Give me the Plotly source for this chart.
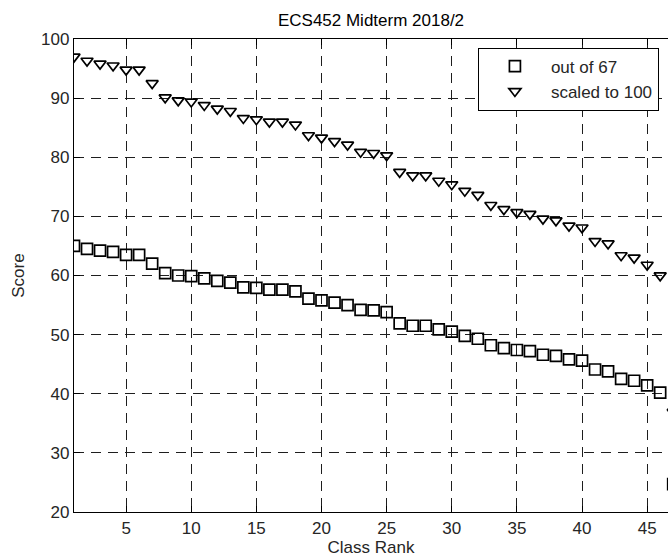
import plotly.graph_objects as go

# ---- data ----
class_rank = list(range(1, 48))
out_of_67 = [65.0, 64.5, 64.2, 64.0, 63.5, 63.5, 62.0, 60.4, 60.0, 59.9,
             59.5, 59.1, 58.8, 58.0, 57.9, 57.6, 57.6, 57.3, 56.1, 55.8,
             55.4, 55.0, 54.2, 54.1, 53.8, 51.9, 51.5, 51.5, 50.9, 50.5,
             49.8, 49.3, 48.2, 47.7, 47.4, 47.2, 46.6, 46.4, 45.8, 45.6,
             44.1, 43.8, 42.5, 42.2, 41.4, 40.2, 24.7]
scaled_to_100 = [97.0, 96.3, 95.8, 95.5, 94.8, 94.8, 92.5, 90.1, 89.6, 89.4,
                 88.8, 88.2, 87.8, 86.6, 86.4, 86.0, 86.0, 85.5, 83.7, 83.3,
                 82.7, 82.1, 80.9, 80.7, 80.3, 77.5, 76.9, 76.9, 76.0, 75.4,
                 74.3, 73.6, 71.9, 71.2, 70.7, 70.4, 69.6, 69.3, 68.4, 68.1,
                 65.8, 65.4, 63.4, 63.0, 61.8, 60.0, 36.9]
series_names = ["out of 67", "scaled to 100"]
x_ticks = [5, 10, 15, 20, 25, 30, 35, 40, 45]
y_ticks = [20, 30, 40, 50, 60, 70, 80, 90, 100]

FONT = "Liberation Sans, Arial, sans-serif"
TXT = "#262626"

fig = go.Figure()
fig.add_trace(go.Scatter(
    x=class_rank, y=out_of_67, mode="markers", name=series_names[0],
    legendgroup="a",
    marker=dict(symbol="square-open", size=11, color="black",
                line=dict(width=1.7, color="black")),
))
fig.add_trace(go.Scatter(
    x=class_rank, y=scaled_to_100, mode="markers", name=series_names[1],
    legendgroup="b",
    marker=dict(symbol="triangle-down-open", size=10.5, color="black",
                line=dict(width=1.7, color="black")),
))

axis_common = dict(
    showgrid=True, gridcolor="#1e1e1e", gridwidth=1.3, griddash="10px,7px",
    showline=True, linecolor="black", linewidth=1.4,
    ticks="inside", ticklen=6, tickcolor="black", tickwidth=1.2,
    zeroline=False, tickfont=dict(family=FONT, size=17, color=TXT),
)

fig.update_layout(
    width=668, height=558, autosize=False,
    margin=dict(l=74, r=0, t=39, b=46, pad=0),
    paper_bgcolor="white", plot_bgcolor="white",
    font=dict(family=FONT, size=17, color=TXT),
    title=dict(text="ECS452 Midterm 2018/2", x=0.5, xref="paper",
               y=1 - 20 / 558, yref="container", yanchor="middle",
               font=dict(family=FONT, size=17, color="black")),
    xaxis=dict(axis_common, range=[1, 46.6], tickvals=x_ticks,
               mirror="ticks",
               title=dict(text="Class Rank", standoff=2,
                          font=dict(family=FONT, size=17, color=TXT))),
    yaxis=dict(axis_common, range=[20, 100], tickvals=y_ticks,
               mirror=False,
               title=dict(text="Score", standoff=12,
                          font=dict(family=FONT, size=17, color=TXT))),
    showlegend=True,
    legend=dict(x=0.68, y=0.982, xanchor="left", yanchor="top",
                bgcolor="white", bordercolor="black", borderwidth=1,
                font=dict(family=FONT, size=17, color=TXT),
                itemwidth=62, traceorder="grouped", tracegroupgap=0),
)

fig.write_html("out.html")
